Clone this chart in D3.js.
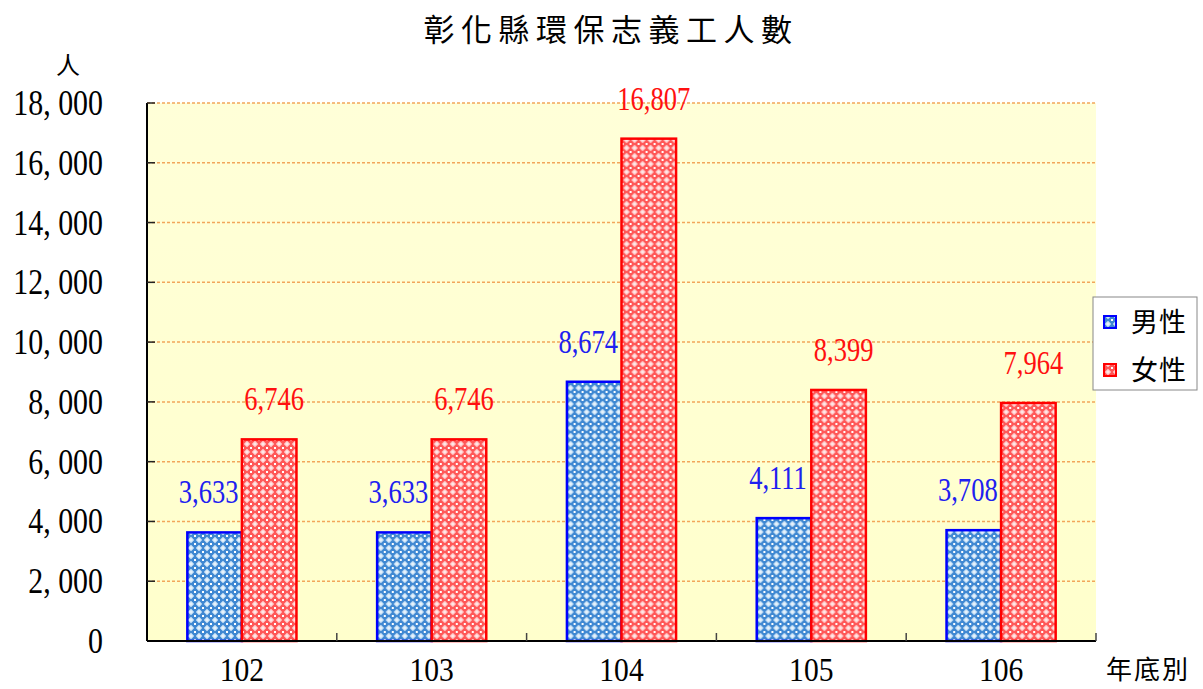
<!DOCTYPE html>
<html>
<head>
<meta charset="utf-8">
<script src="https://cdn.jsdelivr.net/npm/d3@7"></script>
<style>
  html, body { margin: 0; padding: 0; background: #fff; }
  svg { display: block; }
</style>
</head>
<body>
<svg id="chart" width="1203" height="689"></svg>
<script>
// 彰化縣環保志義工人數 (人), by year-end
const years = ["102", "103", "104", "105", "106"];
const seriesNames = ["男性", "女性"];
const maleValues = [3633, 3633, 8674, 4111, 3708];
const femaleValues = [6746, 6746, 16807, 8399, 7964];
const yTicks = [0, 2000, 4000, 6000, 8000, 10000, 12000, 14000, 16000, 18000];

const svg = d3.select("#chart");
const plot = { left: 147, right: 1096, top: 103, bottom: 641 };

const serif = "'Liberation Serif', 'Times New Roman', serif";
const cjk = "'Noto Sans CJK TC', 'Noto Sans CJK SC', sans-serif";

const blueStroke = "#0000FF", redStroke = "#FF0000";
const blueText = "#2020F0", redText = "#FF1010";

// ---- scales ----
const x0 = d3.scaleBand().domain(years).range([plot.left, plot.right]).padding(0);
const groupFrac = 0.575;
const x1 = d3.scaleBand().domain(seriesNames)
  .range([x0.bandwidth() * (1 - groupFrac) / 2, x0.bandwidth() * (1 + groupFrac) / 2])
  .padding(0);
const y = d3.scaleLinear().domain([0, 18000]).range([plot.bottom, plot.top]);

// ---- defs: background gradient and fill patterns ----
const defs = svg.append("defs");
const grad = defs.append("linearGradient").attr("id", "bg")
  .attr("x1", 0).attr("y1", 0).attr("x2", 0).attr("y2", 1);
grad.append("stop").attr("offset", "0%").attr("stop-color", "#FFFFD8");
grad.append("stop").attr("offset", "100%").attr("stop-color", "#FFFFCC");

function lattice(id, base, light) {
  const p = defs.append("pattern").attr("id", id)
    .attr("patternUnits", "userSpaceOnUse").attr("width", 8).attr("height", 8);
  p.append("rect").attr("width", 8).attr("height", 8).attr("fill", base);
  // pale diamonds at the cell centre, white crosses at the corners
  p.append("path").attr("d", "M4,0.8 L7.2,4 L4,7.2 L0.8,4 Z").attr("fill", light);
  p.append("path").attr("d", "M-1,-1 h2 v2 h-2 Z M7,-1 h2 v2 h-2 Z M-1,7 h2 v2 h-2 Z M7,7 h2 v2 h-2 Z")
    .attr("fill", "#FFFFFF");
  p.append("rect").attr("x", 3.3).attr("y", 3.3).attr("width", 1.4).attr("height", 1.4).attr("fill", "#FFFFFF");
}
lattice("patBlue", "#3F88D2", "#D2E7F8");
lattice("patRed", "#FF5757", "#FFD2D2");

// ---- plot background ----
svg.append("rect")
  .attr("x", plot.left).attr("y", plot.top)
  .attr("width", plot.right - plot.left).attr("height", plot.bottom - plot.top)
  .attr("fill", "url(#bg)");

// ---- gridlines ----
svg.append("g").selectAll("line")
  .data(yTicks.filter(d => d > 0))
  .join("line")
  .attr("x1", plot.left).attr("x2", plot.right)
  .attr("y1", d => y(d)).attr("y2", d => y(d))
  .attr("stroke", "#F2A65A").attr("stroke-width", 1.5)
  .attr("stroke-dasharray", "3,2");

// condensed text helper (the Ming style digits are narrow)
function ctext(g, tx, ty, str, opts) {
  return g.append("text")
    .attr("transform", `translate(${tx},${ty}) scale(${opts.sx || 1},1)`)
    .attr("text-anchor", opts.anchor || "middle")
    .attr("font-family", opts.family || serif)
    .attr("font-size", opts.size)
    .attr("fill", opts.fill || "#000")
    .text(str);
}

// ---- bars ----
const rows = years.map((yr, i) => ({ year: yr, vals: [
  { s: "男性", v: maleValues[i] },
  { s: "女性", v: femaleValues[i] }
]}));

const groups = svg.append("g").selectAll("g")
  .data(rows).join("g")
  .attr("transform", d => `translate(${x0(d.year)},0)`);

groups.selectAll("rect")
  .data(d => d.vals).join("rect")
  .attr("x", d => x1(d.s))
  .attr("y", d => y(d.v))
  .attr("width", x1.bandwidth())
  .attr("height", d => y(0) - y(d.v))
  .attr("fill", d => d.s === "男性" ? "url(#patBlue)" : "url(#patRed)")
  .attr("stroke", d => d.s === "男性" ? blueStroke : redStroke)
  .attr("stroke-width", 2.5);

// ---- value labels ----
const fmt = d3.format(",");
const labelG = svg.append("g");
rows.forEach(r => {
  r.vals.forEach(d => {
    const cx = x0(r.year) + x1(d.s) + x1.bandwidth() / 2 + (d.s === "男性" ? -6 : 5);
    ctext(labelG, cx, y(d.v) - 29, fmt(d.v), {
      size: 34, sx: 0.78, fill: d.s === "男性" ? blueText : redText
    });
  });
});

// ---- axes ----
const axisG = svg.append("g");
// y axis line and inward ticks
axisG.append("line")
  .attr("x1", plot.left).attr("x2", plot.left)
  .attr("y1", plot.top).attr("y2", plot.bottom)
  .attr("stroke", "#000").attr("stroke-width", 2);
axisG.selectAll("line.yt").data(yTicks).join("line").attr("class", "yt")
  .attr("x1", plot.left).attr("x2", plot.left + 8)
  .attr("y1", d => y(d)).attr("y2", d => y(d))
  .attr("stroke", "#222").attr("stroke-width", 1.5);
// x axis line and ticks at category boundaries
axisG.append("line")
  .attr("x1", plot.left).attr("x2", plot.right)
  .attr("y1", plot.bottom).attr("y2", plot.bottom)
  .attr("stroke", "#000").attr("stroke-width", 2);
const bounds = years.slice(1).map(yr => x0(yr)).concat([plot.right]);
axisG.selectAll("line.xt").data(bounds).join("line").attr("class", "xt")
  .attr("x1", d => d).attr("x2", d => d)
  .attr("y1", plot.bottom - 8).attr("y2", plot.bottom)
  .attr("stroke", "#444").attr("stroke-width", 1.5);

// y tick labels
const yFmt = d => d === 0 ? "0" : d3.format(",")(d).replace(",", ", ");
yTicks.forEach(t => {
  ctext(axisG, 103, y(t) + 12, yFmt(t), { size: 36, sx: 0.83, anchor: "end" });
});
// x tick labels
years.forEach(yr => {
  ctext(axisG, x0(yr) + x0.bandwidth() / 2, 681, yr, { size: 34, sx: 0.87 });
});

// ---- titles ----
svg.append("text")
  .attr("x", 611).attr("y", 41)
  .attr("text-anchor", "middle")
  .attr("font-family", cjk).attr("font-size", 31)
  .attr("letter-spacing", 6.5)
  .attr("fill", "#000")
  .text("彰化縣環保志義工人數");

svg.append("text")
  .attr("x", 68).attr("y", 74)
  .attr("text-anchor", "middle")
  .attr("font-family", cjk).attr("font-size", 24)
  .attr("fill", "#000")
  .text("人");

svg.append("text")
  .attr("x", 1148).attr("y", 679)
  .attr("text-anchor", "middle")
  .attr("font-family", cjk).attr("font-size", 26)
  .attr("letter-spacing", 2)
  .attr("fill", "#000")
  .text("年底別");

// ---- legend ----
const leg = svg.append("g");
leg.append("rect")
  .attr("x", 1093).attr("y", 297).attr("width", 104).attr("height", 93)
  .attr("fill", "#fff").attr("stroke", "#888").attr("stroke-width", 1);
seriesNames.forEach((s, i) => {
  const cy = 322 + i * 48;
  leg.append("rect")
    .attr("x", 1104).attr("y", cy - 6).attr("width", 12).attr("height", 12)
    .attr("fill", i === 0 ? "url(#patBlue)" : "url(#patRed)")
    .attr("stroke", i === 0 ? blueStroke : redStroke).attr("stroke-width", 2);
  leg.append("text")
    .attr("x", 1131).attr("y", cy + 10)
    .attr("font-family", cjk).attr("font-size", 27)
    .attr("letter-spacing", 1)
    .attr("fill", "#000")
    .text(s);
});
</script>
</body>
</html>
